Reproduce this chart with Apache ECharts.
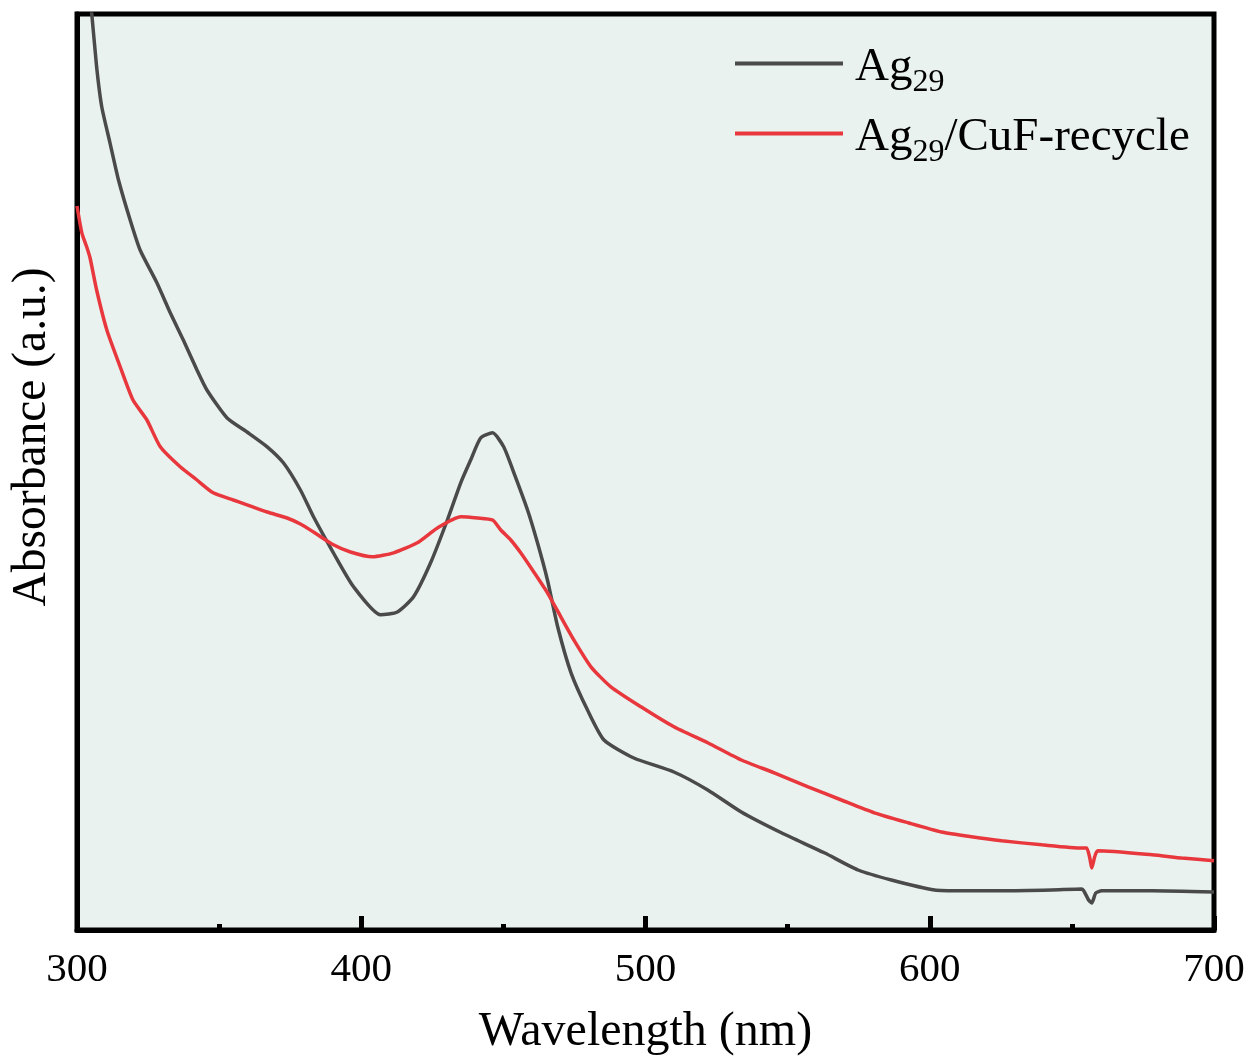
<!DOCTYPE html>
<html>
<head>
<meta charset="utf-8">
<script src="https://cdn.jsdelivr.net/npm/echarts@6/dist/echarts.min.js"></script>
<style>
html,body{margin:0;padding:0;background:#fff;}
#chart{width:1252px;height:1061px;}
</style>
</head>
<body>
<div id="chart"></div>
<script>
// Wavelength (nm) and absorbance (a.u.)
const ag29Wavelength = [300,305.2,306.9,308.7,311.6,314.6,318.7,322.2,328.1,332.8,337.4,342.2,345.7,352.8,359.8,366.9,372.6,378.6,383.2,390.2,397.3,406.8,412.7,418.4,424.4,430.3,435.0,438.5,442.0,446.2,450.1,453.7,458.5,462.0,465.5,469.1,473.8,479.6,485.4,495.9,510.0,521.9,533.7,547.8,562.9,574.8,586.5,601.7,611.2,625.3,642.9,653.5,654.2,655.9,657.0,658.4,660.5,678.2,700];
const ag29Absorbance = [2.65,2.29,2.158,2.058,1.968,1.875,1.775,1.70,1.618,1.543,1.475,1.40,1.35,1.28,1.245,1.208,1.168,1.10,1.033,0.943,0.858,0.788,0.795,0.833,0.918,1.025,1.118,1.175,1.23,1.243,1.208,1.143,1.05,0.968,0.875,0.758,0.643,0.55,0.475,0.43,0.395,0.35,0.295,0.243,0.193,0.15,0.125,0.10,0.098,0.098,0.10,0.1025,0.098,0.075,0.0675,0.0925,0.098,0.098,0.095];

const recycleWavelength = [300,301.7,303.4,304.6,306.9,310.5,315.2,319.7,324.6,329.3,336.3,342.2,347.9,355.0,359.8,366.9,373.9,378.6,383.2,390.2,396.2,403.9,411.4,419.7,426.8,435.0,440.9,446.2,449.1,452.6,456.1,460.7,465.5,470.2,474.8,480.8,487.8,498.4,510.0,521.9,533.7,545.3,557.2,568.9,580.5,592.4,604.1,614.7,625.3,639.4,653.5,655.2,656.3,657.0,658.1,659.1,678.2,688.7,700];
const recycleAbsorbance = [1.81,1.743,1.708,1.68,1.60,1.50,1.408,1.325,1.275,1.208,1.158,1.125,1.093,1.075,1.063,1.045,1.03,1.015,0.995,0.963,0.945,0.933,0.943,0.968,1.005,1.033,1.03,1.025,1.00,0.975,0.943,0.895,0.843,0.783,0.725,0.658,0.608,0.558,0.508,0.468,0.425,0.393,0.358,0.325,0.293,0.268,0.245,0.233,0.223,0.213,0.205,0.205,0.18,0.155,0.185,0.198,0.188,0.18,0.173];

const seriesNames = ['Ag29', 'Ag29/CuF-recycle'];
const xTicks = [300, 400, 500, 600, 700];

function pairs(xs, ys){ return xs.map((x,i)=>[x, ys[i]]); }

const serif = '"Liberation Serif","Times New Roman",serif';
const chart = echarts.init(document.getElementById('chart'));
chart.setOption({
  animation: false,
  backgroundColor: '#ffffff',
  grid: {
    left: 77, right: 38, top: 14, bottom: 131,
    show: true, backgroundColor: '#E9F2EE', borderColor: '#000', borderWidth: 5
  },
  legend: {
    orient: 'vertical',
    left: 730, top: 39,
    itemWidth: 108, itemHeight: 4, itemGap: 15,
    icon: 'rect',
    data: seriesNames,
    formatter: function(name){
      if (name === 'Ag29') return '{m|Ag}{s|29}';
      return '{m|Ag}{s|29}{m|/CuF-recycle}';
    },
    textStyle: {
      fontFamily: serif, color: '#000',
      padding: [16,0,0,7],
      rich: {
        m: {fontFamily: serif, fontSize: 47, color: '#000', verticalAlign: 'bottom', padding: [0,0,8,0]},
        s: {fontFamily: serif, fontSize: 32, color: '#000', verticalAlign: 'bottom'}
      }
    }
  },
  xAxis: {
    type: 'value', min: xTicks[0], max: xTicks[xTicks.length-1], interval: 100,
    name: 'Wavelength (nm)', nameLocation: 'middle', nameGap: 78,
    nameTextStyle: {fontFamily: serif, fontSize: 48, color: '#000'},
    axisLine: {show: true, lineStyle: {color: '#000', width: 5}},
    axisTick: {show: true, inside: true, length: 14, lineStyle: {color: '#000', width: 5}},
    minorTick: {show: true, splitNumber: 2, length: 6, lineStyle: {color: '#000', width: 5}},
    axisLabel: {fontFamily: serif, fontSize: 41, color: '#000', margin: 20},
    splitLine: {show: false}
  },
  yAxis: {
    type: 'value', min: 0, max: 2.29,
    name: 'Absorbance (a.u.)', nameLocation: 'middle', nameGap: 20,
    nameTextStyle: {fontFamily: serif, fontSize: 47.5, color: '#000', padding: [0,0,0,70]},
    axisLine: {show: true, lineStyle: {color: '#000', width: 5}},
    axisTick: {show: false},
    axisLabel: {show: false},
    splitLine: {show: false}
  },
  series: [
    {
      name: seriesNames[0], type: 'line', showSymbol: false, smooth: 0.2, clip: true,
      data: pairs(ag29Wavelength, ag29Absorbance),
      lineStyle: {color: '#4A4A4A', width: 3.5}, itemStyle: {color: '#4A4A4A'}
    },
    {
      name: seriesNames[1], type: 'line', showSymbol: false, smooth: 0.2, clip: true,
      data: pairs(recycleWavelength, recycleAbsorbance),
      lineStyle: {color: '#E8383D', width: 3.5}, itemStyle: {color: '#E8383D'}
    }
  ]
});
</script>
</body>
</html>
